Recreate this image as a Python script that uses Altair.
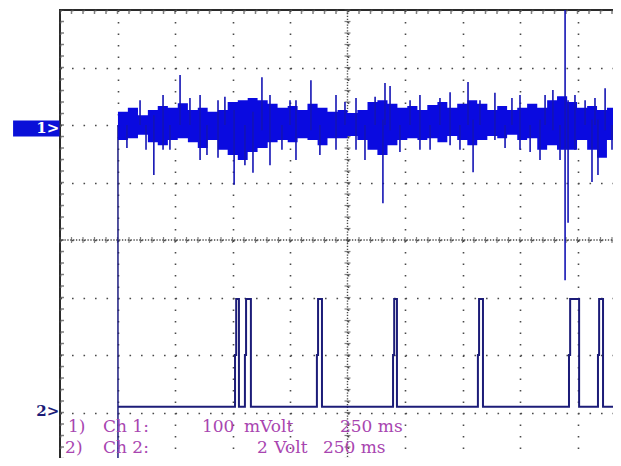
import altair as alt
import pandas as pd

# Channel 1 (100 mV/div): noise envelope, time in ms (250 ms/div)
ch1_t = [252, 295, 339, 382, 425, 469, 512, 556, 599, 642,
         686, 729, 773, 816, 859, 903, 946, 990, 1033, 1076,
         1120, 1163, 1207, 1250, 1293, 1337, 1380, 1424, 1467, 1510,
         1554, 1597, 1641, 1684, 1727, 1771, 1814, 1858, 1901, 1944,
         1988, 2031, 2075, 2118, 2161, 2205, 2248, 2292, 2335, 2378,
         2422, 2500]
ch1_hi = [23, 30, 17, 26, 33, 30, 38, 26, 30, 23,
          26, 40, 43, 47, 43, 37, 30, 33, 26, 37,
          30, 23, 26, 21, 26, 40, 43, 37, 30, 33,
          26, 35, 40, 30, 37, 43, 37, 26, 33, 26,
          30, 37, 30, 43, 50, 40, 30, 33, 26, 30,
          26, 26]
ch1_lo = [-26, -23, -17, -30, -35, -26, -23, -30, -40, -26,
          -43, -52, -61, -47, -40, -30, -26, -30, -23, -26,
          -35, -23, -23, -19, -26, -43, -52, -35, -26, -23,
          -26, -23, -30, -19, -26, -35, -26, -19, -23, -17,
          -26, -23, -43, -35, -43, -43, -26, -43, -57, -26,
          -12, -20]

# Channel 1 spikes (ms, top mV, bottom mV)
spike_t = [291, 348, 374, 408, 448, 478, 522, 565, 609, 639,
           687, 717, 757, 804, 839, 878, 913, 965, 1000, 1026,
           1091, 1130, 1200, 1239, 1287, 1326, 1370, 1404, 1413, 1435,
           1478, 1522, 1565, 1609, 1652, 1696, 1739, 1774, 1796, 1826,
           1891, 1935, 1965, 2000, 2044, 2087, 2109, 2143, 2174, 2196,
           2209, 2239, 2283, 2313, 2326, 2339, 2370, 2400, 2422]
spike_hi = [0, 43, 0, 17, 52, 0, 87, 47, 52, 0,
            43, 49, 26, 0, 23, 83, 52, 0, 43, 43,
            78, 0, 52, 40, 47, 0, 49, 9, 73, 68,
            0, 43, 52, 0, 47, 57, 0, 75, 9, 43,
            56, 0, 47, 52, 0, 9, 52, 61, 0, 200,
            43, 52, 43, 9, 47, 9, 64, 0, 64]
spike_lo = [-40, 0, -43, -87, -43, -43, 0, 0, -61, -52,
            -57, 0, -104, -70, -83, -9, -70, -43, 0, -61,
            -9, -52, -43, 0, -43, -61, 0, -136, 0, -9,
            -47, 0, -43, -43, 0, -35, -43, 0, -82, 0,
            -26, -40, 0, -43, -47, -61, 0, -9, -61, -270,
            -170, -43, 0, -99, 0, -87, -9, -43, -26]

# Channel 2 (2 V/div): pulse edges in ms, levels in volts
pulse_start = [761, 804, 1117, 1448, 1817, 2213, 2339]
pulse_end = [778, 830, 1139, 1465, 1839, 2257, 2361]
ch2_low_v = 0.1
ch2_mid_v = 1.9
ch2_high_v = 3.85
trace_start_ms = 252
trace_end_ms = 2500

# Screen settings
ch1_offset_div = 2.0      # ground marker 1
ch2_offset_div = -2.95    # ground marker 2
ch1_mv_per_div = 100
ch2_v_per_div = 2

row_labels = ["1)", "Ch 1:", "100", "mVolt", "250 ms", "2)", "Ch 2:", "2", "Volt", "250 ms"]
row_label_t = [35, 187, 617, 800, 1217, 22, 187, 857, 932, 1143]
row_label_y = [-3.34] * 5 + [-3.70] * 5

# ---------------- tables ----------------
ch1 = pd.DataFrame({
    "t": ch1_t,
    "hi": [ch1_offset_div + v / ch1_mv_per_div for v in ch1_hi],
    "lo": [ch1_offset_div + v / ch1_mv_per_div for v in ch1_lo],
})
spikes = pd.DataFrame({
    "t": spike_t,
    "hi": [ch1_offset_div + v / ch1_mv_per_div for v in spike_hi],
    "lo": [ch1_offset_div + v / ch1_mv_per_div for v in spike_lo],
})

pts_t, pts_v = [trace_start_ms], [ch2_low_v]
for s, e in zip(pulse_start, pulse_end):
    pts_t += [s, s, s + 5, s + 5, e, e]
    pts_v += [ch2_low_v, ch2_mid_v, ch2_mid_v, ch2_high_v, ch2_high_v, ch2_low_v]
pts_t.append(trace_end_ms)
pts_v.append(ch2_low_v)
ch2 = pd.DataFrame({
    "t": pts_t,
    "y": [ch2_offset_div + v / ch2_v_per_div for v in pts_v],
    "i": list(range(len(pts_t))),
})

entry = pd.DataFrame({"t": [trace_start_ms], "y": [-4.0], "y2": [ch1_offset_div]})
labels = pd.DataFrame({"t": row_label_t, "y": row_label_y, "txt": row_labels})

x_major = [250 * i for i in range(11)]
y_major = list(range(-4, 5))
x_minor = pd.DataFrame({"t": [50 * i for i in range(51)]})
y_minor = pd.DataFrame({"y": [-4 + 0.2 * i for i in range(41)]})

xs = alt.Scale(domain=[0, 2500], nice=False, zero=False)
ys = alt.Scale(domain=[-4, 4], nice=False, zero=False)
X = lambda f="t": alt.X(f + ":Q", scale=xs, axis=alt.Axis(values=x_major, title=None))
Y = lambda f="y": alt.Y(f + ":Q", scale=ys, axis=alt.Axis(values=y_major, title=None))

GRID = "#4a4a4a"
TXT = "#a845b0"

# center cross (dense dotted lines + small ticks)
center_v = alt.Chart(pd.DataFrame({"t": [1250]})).mark_rule(
    color=GRID, strokeWidth=1.4, strokeDash=[1.3, 1.575]).encode(x=X())
center_h = alt.Chart(pd.DataFrame({"y": [0]})).mark_rule(
    color=GRID, strokeWidth=1.4, strokeDash=[1.3, 1.575]).encode(y=Y())
center_vt = alt.Chart(y_minor).mark_tick(
    orient="horizontal", size=6, thickness=1.2, color=GRID).encode(
    x=alt.datum(1250, scale=xs), y=Y())
center_ht = alt.Chart(x_minor).mark_tick(
    orient="vertical", size=6, thickness=1.2, color=GRID).encode(
    x=X(), y=alt.datum(0, scale=ys))
edge_left = alt.Chart(y_minor).mark_tick(
    orient="horizontal", size=8, thickness=1.5, color=GRID, clip=True).encode(
    x=alt.datum(0, scale=xs), y=Y())
edge_top = alt.Chart(x_minor).mark_tick(
    orient="vertical", size=8, thickness=1.5, color=GRID, clip=True).encode(
    x=X(), y=alt.datum(4, scale=ys))

ch1_area = alt.Chart(ch1).mark_area(
    interpolate="step-after", color="#0a0ae0", opacity=1, clip=True).encode(
    x=X(), y=Y("hi"), y2="lo")
ch1_spikes = alt.Chart(spikes).mark_rule(
    color="#1414b4", strokeWidth=1.6, clip=True).encode(
    x=X(), y=Y("hi"), y2="lo")
entry_line = alt.Chart(entry).mark_rule(color="#1c1c80", strokeWidth=1.5).encode(
    x=X(), y=Y(), y2="y2")
ch2_line = alt.Chart(ch2).mark_line(
    color="#1c1c78", strokeWidth=2, clip=True).encode(
    x=X(), y=Y(), order="i:Q")

marker_box = alt.Chart(pd.DataFrame({"t": [-204], "t2": [-2], "y": [2.08], "y2": [1.8]})).mark_rect(
    color="#0a10d8").encode(x=X(), x2="t2", y=Y(), y2="y2")
marker_txt = alt.Chart(pd.DataFrame({"t": [-3, -3], "y": [1.94, -2.98], "txt": ["1>", "2>"],
                                     "c": ["#ffffff", "#1c1c78"]})).mark_text(
    align="right", baseline="middle", font="DejaVu Serif", fontWeight="bold", fontSize=15).encode(
    x=X(), y=Y(), text="txt:N", color=alt.Color("c:N", scale=None))

row_txt = alt.Chart(labels).mark_text(
    align="left", baseline="alphabetic", font="DejaVu Serif", fontSize=17, color=TXT).encode(
    x=X(), y=Y(), text="txt:N")

chart = alt.layer(
    center_v, center_h, center_vt, center_ht, edge_left, edge_top,
    ch2_line, entry_line, ch1_area, ch1_spikes, marker_box, marker_txt, row_txt,
).properties(
    width=575, height=460,
    autosize=alt.AutoSizeParams(type="none"),
    padding={"left": 52, "top": 2, "right": -22, "bottom": -12},
    background="white",
).configure_axis(
    grid=True, gridColor=GRID, gridWidth=1.6, gridDash=[1.6, 9.9], gridOpacity=1,
    labels=False, ticks=False, domain=False,
).configure_view(stroke="#2a2a2a", strokeWidth=2)

chart.save("out.html", embed_options={"renderer": "svg", "actions": False})
